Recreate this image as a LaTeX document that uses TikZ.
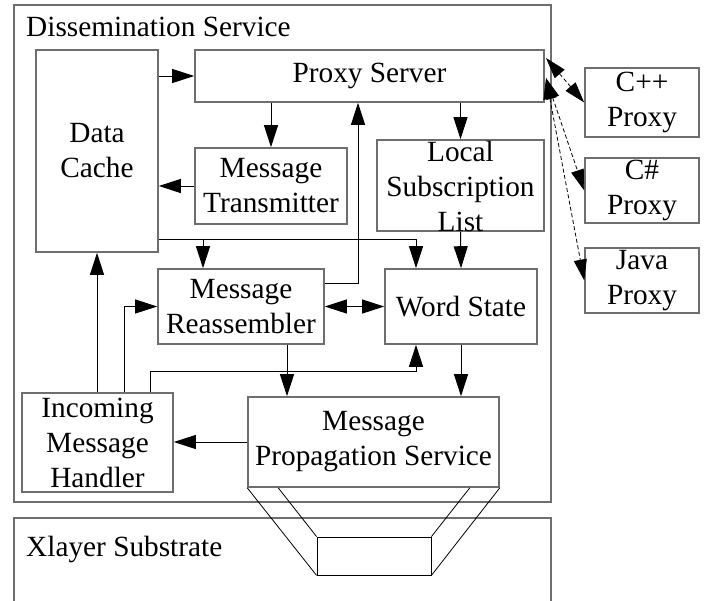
\documentclass[tikz,border=0pt]{standalone}
\usepackage{fontspec}
\setmainfont{Liberation Serif}
\usetikzlibrary{arrows.meta}
\definecolor{edge}{HTML}{6E6E6E}
\tikzset{
  box/.style={draw=edge, line width=1.6pt, rectangle, inner sep=0pt, fill=none},
  txt/.style={inner sep=0pt, align=center, font=\fontsize{29.3pt}{35pt}\selectfont},
  conn/.style={draw=black, line width=1pt},
  arr/.style={conn, -{Triangle[length=22pt,width=14pt]}},
  arrb/.style={conn, {Triangle[length=22pt,width=14pt]}-{Triangle[length=22pt,width=14pt]}},
  darrb/.style={draw=black, line width=0.8pt, dash pattern=on 4pt off 2.5pt, {Triangle[length=21pt,width=13pt]}-{Triangle[length=21pt,width=13pt]}},
  thin/.style={draw=black, line width=0.8pt}
}
\begin{document}
\begin{tikzpicture}[x=1pt,y=-1pt]
\useasboundingbox (0,0) rectangle (708,600);
\clip (0,0) rectangle (708,600);
% containers
\node[box, minimum width=537pt, minimum height=497pt] (ds) at (282.5,253.5) {};
\node[txt, anchor=west] (dst) at (26,27) {Dissemination Service};
\node[box, minimum width=537pt, minimum height=110pt] (xl) at (282.5,573) {};
\node[txt, anchor=west] (xlt) at (26,549) {Xlayer Substrate};
% boxes
\node[box, minimum width=122pt, minimum height=202pt] (dc) at (97,151) {};
\node[txt] (dct) at (dc) {Data\\Cache};
\node[box, minimum width=349pt, minimum height=52pt] (ps) at (369.5,76) {};
\node[txt] (pst) at (ps) {Proxy Server};
\node[box, minimum width=152pt, minimum height=76pt] (mt) at (271,186) {};
\node[txt] (mtt) at (mt) {Message\\Transmitter};
\node[box, minimum width=167pt, minimum height=91pt] (lsl) at (460.5,185.5) {};
\node[txt] (lslt) at (460.5,186) {Local\\Subscription\\List};
\node[box, minimum width=166pt, minimum height=75pt] (mr) at (241,306.5) {};
\node[txt] (mrt) at (mr) {Message\\Reassembler};
\node[box, minimum width=152pt, minimum height=75pt] (ws) at (461,306.5) {};
\node[txt] (wst) at (ws) {Word State};
\node[box, minimum width=151pt, minimum height=99pt] (imh) at (97.5,442.5) {};
\node[txt] (imht) at (imh) {Incoming\\Message\\Handler};
\node[box, minimum width=251pt, minimum height=90pt] (mps) at (373.5,442) {};
\node[txt] (mpst) at (mps) {Message\\Propagation Service};
\node[box, minimum width=114pt, minimum height=69pt] (cpp) at (642,102.5) {};
\node[txt] (cppt) at (cpp) {C++\\Proxy};
\node[box, minimum width=114pt, minimum height=65pt] (cs) at (642,190.5) {};
\node[txt] (cst) at (cs) {C\#\\Proxy};
\node[box, minimum width=114pt, minimum height=65pt] (jv) at (642,280.5) {};
\node[txt] (jvt) at (jv) {Java\\Proxy};
% small box in substrate
\node[draw=black, line width=0.8pt, minimum width=114pt, minimum height=38pt, inner sep=0pt] (sb) at (374,556) {};
% helper coordinates
\coordinate (x124) at (124,0);
\coordinate (x150) at (150,0);
\coordinate (x203) at (203,0);
\coordinate (x287) at (287,0);
\coordinate (x358) at (358,0);
\coordinate (x416) at (416,0);
\coordinate (y239) at (0,239);
\coordinate (y283) at (0,283);
\coordinate (y371) at (0,371);
\coordinate (pa) at (546,58);
\coordinate (pb) at (546,78);
% connectors
\draw[arr] (dc.east |- ps.west) -- (ps.west);
\draw[arr] (ps.south -| mt.north) -- (mt.north);
\draw[arr] (ps.south -| lsl.north) -- (lsl.north);
\draw[arr] (mt.west) -- (mt.west -| dc.east);
\draw[conn] (dc.east |- y239) -- (x416 |- y239);
\draw[arr] (x203 |- y239) -- (x203 |- mr.north);
\draw[arr] (x416 |- y239) -- (x416 |- ws.north);
\draw[arr] (lsl.south) -- (ws.north);
\draw[arrb] (mr.east) -- (ws.west);
\draw[arr] (mr.east |- y283) -| (x358 |- ps.south);
\draw[arr] (x287 |- mr.south) -- (x287 |- mps.north);
\draw[arr] (ws.south) -- (ws.south |- mps.north);
\draw[arr] (x150 |- imh.north) |- (x416 |- y371) -- (x416 |- ws.south);
\draw[arr] (x124 |- imh.north) |- (mr.west);
\draw[arr] (imh.north -| dc.south) -- (dc.south);
\draw[arr] (mps.west) -- (mps.west -| imh.east);
\draw[darrb] (pa) -- (cpp.west);
\draw[darrb] (pb) -- (cs.west);
\draw[darrb] (pb) -- (jv.west);
% funnel
\draw[thin] (mps.south west) -- (sb.south west);
\draw[thin] (mps.south east) -- (sb.south east);
\draw[thin] ([xshift=31pt]mps.south west) -- (sb.north west);
\draw[thin] ([xshift=-30pt]mps.south east) -- (sb.north east);
\end{tikzpicture}
\end{document}
